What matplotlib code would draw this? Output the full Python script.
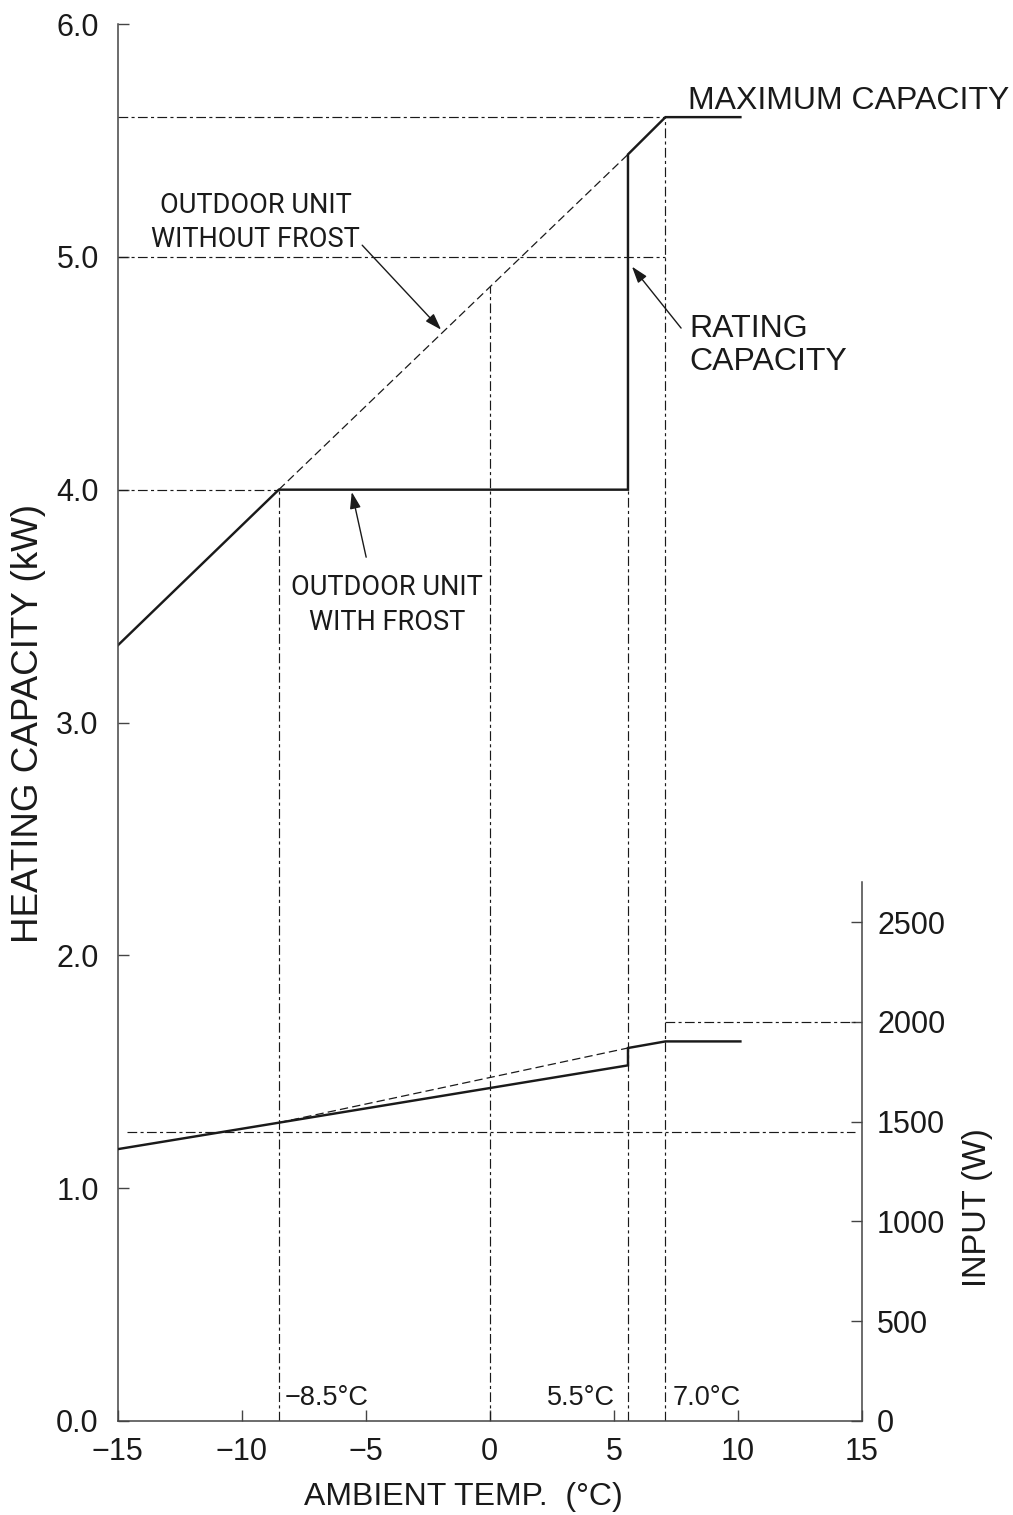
import matplotlib.pyplot as plt

plt.rcParams['font.family'] = ['Liberation Sans', 'DejaVu Sans']
plt.rcParams['lines.scale_dashes'] = False

# heating capacity (kW) vs ambient temperature (degC)
temp_frost = [-15, -8.5, 5.57, 5.57, 7.08, 10.1]
cap_frost = [3.33, 4.0, 4.0, 5.44, 5.6, 5.6]
temp_no_frost = [-8.5, 5.57]
cap_no_frost = [4.0, 5.44]

# power input (W)
temp_input = [-15, 5.57, 5.57, 7.08, 10.1]
input_frost = [1362, 1782, 1869, 1902, 1902]
temp_input_no_frost = [-8.5, 5.57]
input_no_frost = [1495, 1869]

# reference lines
ref_temps = [-8.5, 0, 5.57, 7.08]
ref_temp_tops = [4.0, 4.876, 4.0, 5.6]
max_cap = 5.6
rating_cap = 5.0
frost_cap = 4.0
input_levels = [1450, 2000]

x_ticks = [-15, -10, -5, 0, 5, 10, 15]
x_labels = ['\u221215', '\u221210', '\u22125', '0', '5', '10', '15']
cap_ticks = [0, 1, 2, 3, 4, 5, 6]
input_ticks = [0, 500, 1000, 1500, 2000, 2500]

INK = '#1a1a1a'
AXIS = '#444444'
DASHDOT = (0, (7, 2.4, 2.2, 2.4))
DASHED = (0, (6, 3))
NARROW = ['Roboto', 'Liberation Sans', 'DejaVu Sans']

fig = plt.figure(figsize=(10.13, 15.15), dpi=100)
ax = fig.add_axes([117.5 / 1013, 94 / 1515, 744.5 / 1013, 1397 / 1515])
ax2 = ax.twinx()

ax.set_xlim(-15, 15)
ax.set_ylim(0, 6)
ax2.set_ylim(0, 7000)

# dash-dot guide lines
ax.hlines([max_cap, rating_cap], -15, ref_temps[3], colors=INK, linestyles=[DASHDOT], lw=0.85)
ax.hlines(frost_cap, -15, ref_temps[0], colors=INK, linestyles=[DASHDOT], lw=0.85)
ax.vlines(ref_temps, 0, ref_temp_tops, colors=INK, linestyles=[DASHDOT], lw=0.85)
ax2.hlines(input_levels[0], -14.6, 14.7, colors=INK, linestyles=[DASHDOT], lw=0.85)
ax2.hlines(input_levels[1], ref_temps[3], 14.7, colors=INK, linestyles=[DASHDOT], lw=0.85)

# curves
ax.plot(temp_frost, cap_frost, color=INK, lw=1.75, solid_joinstyle='miter')
ax.plot(temp_no_frost, cap_no_frost, color=INK, lw=0.9, ls=DASHED)
ax2.plot(temp_input, input_frost, color=INK, lw=1.75, solid_joinstyle='miter')
ax2.plot(temp_input_no_frost, input_no_frost, color=INK, lw=0.9, ls=DASHED)

# spines and ticks
for s in ['top', 'right']:
    ax.spines[s].set_visible(False)
for s in ['top', 'left', 'bottom']:
    ax2.spines[s].set_visible(False)
ax.spines['left'].set_bounds(0, 6)
ax2.spines['right'].set_bounds(0, 2700)
for sp in [ax.spines['left'], ax.spines['bottom'], ax2.spines['right']]:
    sp.set_color(AXIS)
    sp.set_linewidth(1.1)

ax.set_xticks(x_ticks, x_labels)
ax.set_yticks(cap_ticks, [f'{v:.1f}' for v in cap_ticks])
ax2.set_yticks(input_ticks, [str(v) for v in input_ticks])
ax.tick_params(axis='x', direction='in', length=8, width=1, color=AXIS, labelsize=22, pad=11.5, labelcolor=INK)
ax.tick_params(axis='y', direction='in', length=8, width=1, color=AXIS, labelsize=22, pad=13.5, labelcolor=INK)
ax2.tick_params(axis='y', direction='in', length=8, width=1, color=AXIS, labelsize=22, pad=10.8, labelcolor=INK)

# axis titles
ax.set_xlabel('AMBIENT TEMP.  (\u00b0C)', fontsize=23, color=INK)
ax.xaxis.set_label_coords(0.465, -0.044)
ax.text(-0.120, 0.499, 'HEATING CAPACITY (kW)', transform=ax.transAxes, rotation=90,
        ha='center', va='center', fontsize=26.5, color=INK)
ax.text(1.155, 0.153, 'INPUT (W)', transform=ax.transAxes, rotation=90,
        ha='center', va='center', fontsize=23.5, color=INK)

# annotations
arrow = dict(arrowstyle='-|>,head_length=1.0,head_width=0.33', color=INK, lw=1,
             shrinkA=0, shrinkB=0)
ax.annotate('', xy=(-1.96, 4.687), xytext=(-5.14, 5.05), arrowprops=arrow)
ax.annotate('', xy=(-5.56, 3.99), xytext=(-4.98, 3.71), arrowprops=arrow)
ax.annotate('', xy=(5.73, 4.958), xytext=(7.71, 4.694), arrowprops=arrow)

ax.text(8.0, 5.636, 'MAXIMUM CAPACITY', fontsize=23, color=INK, va='baseline')
ax.text(8.04, 4.656, 'RATING', fontsize=23, color=INK, va='baseline')
ax.text(8.04, 4.515, 'CAPACITY', fontsize=23, color=INK, va='baseline')

ax.text(-9.44, 5.189, 'OUTDOOR UNIT', family=NARROW, fontsize=19.5, color=INK, ha='center', va='baseline')
ax.text(-9.44, 5.043, 'WITHOUT FROST', family=NARROW, fontsize=19.5, color=INK, ha='center', va='baseline')
ax.text(-4.13, 3.548, 'OUTDOOR UNIT', family=NARROW, fontsize=19.5, color=INK, ha='center', va='baseline')
ax.text(-4.13, 3.398, 'WITH FROST', family=NARROW, fontsize=19.5, color=INK, ha='center', va='baseline')

ax.text(-8.25, 0.069, '\u22128.5\u00b0C', fontsize=19.5, color=INK, ha='left', va='baseline')
ax.text(5.06, 0.069, '5.5\u00b0C', fontsize=19.5, color=INK, ha='right', va='baseline')
ax.text(7.36, 0.069, '7.0\u00b0C', fontsize=19.5, color=INK, ha='left', va='baseline')

fig.savefig('out.png', dpi=100)
